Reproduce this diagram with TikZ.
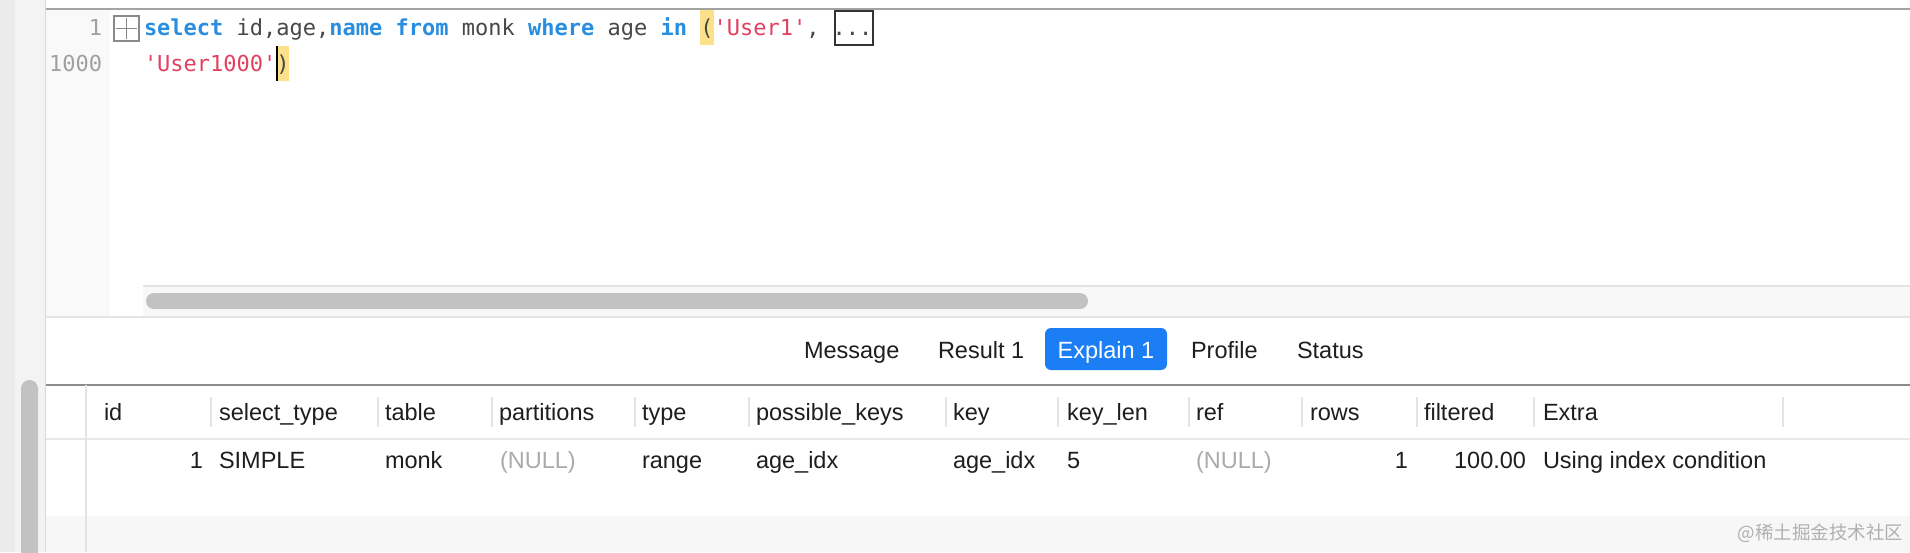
\documentclass[tikz,border=0pt]{standalone}
\usepackage{fontspec}
\setmainfont{Liberation Sans}
\setmonofont{DejaVu Sans Mono}
\newfontfamily\cjkfont{Noto Sans CJK SC}
\definecolor{kw}{HTML}{2A8EE0}
\definecolor{str}{HTML}{E3405F}
\definecolor{txt}{HTML}{474747}
\definecolor{lnum}{HTML}{A0A0A0}
\definecolor{hl}{HTML}{FDE08A}
\definecolor{tbl}{HTML}{1E1E1E}
\definecolor{nullc}{HTML}{ABABAB}
\definecolor{btn}{HTML}{1C7EF5}
\definecolor{thumb}{HTML}{C2C2C2}
\definecolor{sep}{HTML}{E4E4E4}
\definecolor{strip}{HTML}{EBEBEB}
\definecolor{side}{HTML}{F3F3F3}
\definecolor{sideline}{HTML}{D9D9D9}
\definecolor{gutter}{HTML}{F9F9F9}
\definecolor{topline}{HTML}{A3A3A3}
\definecolor{track}{HTML}{F8F8F8}
\definecolor{trackline}{HTML}{E3E3E3}
\definecolor{boxc}{HTML}{333333}
\definecolor{foldc}{HTML}{8A8A8A}
\definecolor{hdrline}{HTML}{8C8C8C}
\definecolor{rowline}{HTML}{E8E8E8}
\definecolor{band}{HTML}{F7F7F7}
\definecolor{wmc}{HTML}{B0B0B0}
\newcommand\sqlkw[1]{\textcolor{kw}{\bfseries #1}}
\begin{document}
\begin{tikzpicture}[x=1pt,y=-1pt,
  every node/.style={inner sep=0pt,outer sep=0pt},
  code/.style={anchor=base west,font=\ttfamily\fontsize{22}{26}\selectfont,text=txt},
  lno/.style={anchor=base east,font=\ttfamily\fontsize{22}{26}\selectfont,text=lnum},
  tab/.style={anchor=base west,font=\fontsize{23.5}{28}\selectfont,text=tbl},
  hdr/.style={anchor=base west,font=\fontsize{23.5}{28}\selectfont,text=tbl},
  cell/.style={anchor=base west,font=\fontsize{23.5}{28}\selectfont,text=tbl},
  rcell/.style={anchor=base east,font=\fontsize{23.5}{28}\selectfont,text=tbl},
  nullcell/.style={cell,text=nullc},
  colsep/.style={draw=sep,line width=1.5pt},
]
\useasboundingbox (0,0) rectangle (1910,552);
% backgrounds
\fill[white] (0,0) rectangle (1910,552);
\fill[strip] (0,0) rectangle (15,552);
\fill[side] (15,0) rectangle (45,552);
\draw[sideline,line width=1.5pt] (45.5,0) -- (45.5,552);
\fill[gutter] (46,9) rectangle (110,317);
\draw[topline,line width=1.2pt] (46,9) -- (1910,9);
% horizontal scroll track
\fill[track] (143,286) rectangle (1910,316);
\draw[trackline,line width=1.5pt] (143,286) -- (1910,286);
\fill[thumb,rounded corners=8pt] (146,293) rectangle (1088,309);
\draw[sep,line width=2pt] (46,317) -- (1910,317);
% vertical scroll thumb
\fill[thumb,rounded corners=8.5pt] (21,380) rectangle (38,575);
% code highlights
\fill[hl] (700,10) rectangle (714,45);
\fill[hl] (276,46) rectangle (289,81);
\draw[black,line width=2pt] (277,46) -- (277,81);
\draw[boxc,line width=2pt] (835,11) rectangle (873,45);
% fold marker
\draw[foldc,line width=1.5pt] (114,16) rectangle (139,41);
\draw[foldc,line width=1.3pt] (126.5,18) -- (126.5,39) (116,28.5) -- (137,28.5);
% line numbers
\node[lno] (n1) at (102,35) {1};
\node[lno] (n2) at (102,71) {1000};
% code
\node[code] (l1) at (144,35) {\sqlkw{select} id,age,\sqlkw{name} \sqlkw{from} monk \sqlkw{where} age \sqlkw{in} (\textcolor{str}{'User1'}, ...};
\node[code] (l2) at (144,71) {\textcolor{str}{'User1000'})};
% tabs
\fill[btn,rounded corners=6pt] (1045,328) rectangle (1167,370);
\node[tab] (tmsg) at (804,358) {Message};
\node[tab] (tres) at (938,358) {Result 1};
\node[tab,anchor=base,text=white] (texp) at (1106,358) {Explain 1};
\node[tab] (tprof) at (1191,358) {Profile};
\node[tab] (tstat) at (1297,358) {Status};
% table grid
\fill[band] (46,516) rectangle (1910,552);
\draw[hdrline,line width=1.5pt] (46,385) -- (1910,385);
\draw[rowline,line width=2pt] (46,439) -- (1910,439);
\draw[colsep] (86,385) -- (86,552);
\foreach \sx in {211,378,492,635,749,946,1058,1189,1302,1417,1534,1783}
  \draw[colsep] (\sx,397) -- (\sx,427);
% header
\node[hdr] (h1) at (104,420) {id};
\node[hdr] (h2) at (219,420) {select\_type};
\node[hdr] (h3) at (385,420) {table};
\node[hdr] (h4) at (499,420) {partitions};
\node[hdr] (h5) at (642,420) {type};
\node[hdr] (h6) at (756,420) {possible\_keys};
\node[hdr] (h7) at (953,420) {key};
\node[hdr] (h8) at (1067,420) {key\_len};
\node[hdr] (h9) at (1196,420) {ref};
\node[hdr] (h10) at (1310,420) {rows};
\node[hdr] (h11) at (1424,420) {filtered};
\node[hdr] (h12) at (1543,420) {Extra};
% row
\node[rcell] (c1) at (203,468) {1};
\node[cell] (c2) at (219,468) {SIMPLE};
\node[cell] (c3) at (385,468) {monk};
\node[nullcell] (c4) at (500,468) {(NULL)};
\node[cell] (c5) at (642,468) {range};
\node[cell] (c6) at (756,468) {age\_idx};
\node[cell] (c7) at (953,468) {age\_idx};
\node[cell] (c8) at (1067,468) {5};
\node[nullcell] (c9) at (1196,468) {(NULL)};
\node[rcell] (c10) at (1408,468) {1};
\node[rcell] (c11) at (1526,468) {100.00};
\node[cell] (c12) at (1543,468) {Using index condition};
% watermark
\node[anchor=east,font=\cjkfont\fontsize{18.5}{22}\selectfont,text=wmc] (wm) at (1903,533) {@稀土掘金技术社区};
\end{tikzpicture}
\end{document}
